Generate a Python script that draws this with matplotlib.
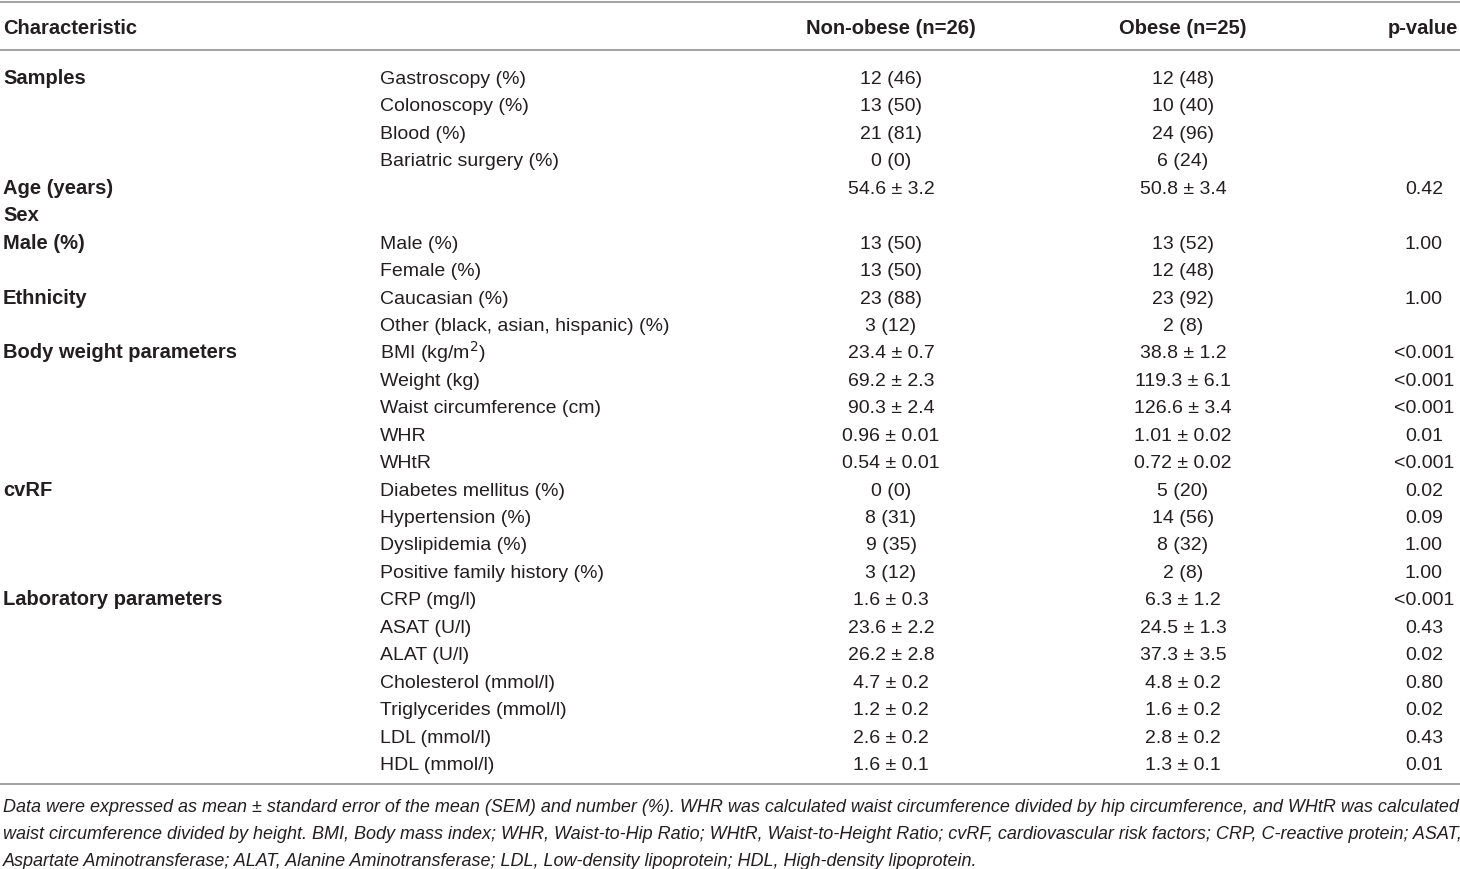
import matplotlib.pyplot as plt

# Table content
header = ["Characteristic", "Non-obese (n=26)", "Obese (n=25)", "p-value"]

groups = ["Samples", "", "", "", "Age (years)", "Sex", "Male (%)", "",
          "Ethnicity", "", "Body weight parameters", "", "", "", "",
          "cvRF", "", "", "", "Laboratory parameters", "", "", "", "", "", ""]

items = ["Gastroscopy (%)", "Colonoscopy (%)", "Blood (%)", "Bariatric surgery (%)",
         "", "", "Male (%)", "Female (%)", "Caucasian (%)",
         "Other (black, asian, hispanic) (%)", "BMI (kg/m$^2$)", "Weight (kg)",
         "Waist circumference (cm)", "WHR", "WHtR", "Diabetes mellitus (%)",
         "Hypertension (%)", "Dyslipidemia (%)", "Positive family history (%)",
         "CRP (mg/l)", "ASAT (U/l)", "ALAT (U/l)", "Cholesterol (mmol/l)",
         "Triglycerides (mmol/l)", "LDL (mmol/l)", "HDL (mmol/l)"]

non_obese = ["12 (46)", "13 (50)", "21 (81)", "0 (0)", "54.6 ± 3.2", "",
             "13 (50)", "13 (50)", "23 (88)", "3 (12)", "23.4 ± 0.7",
             "69.2 ± 2.3", "90.3 ± 2.4", "0.96 ± 0.01", "0.54 ± 0.01",
             "0 (0)", "8 (31)", "9 (35)", "3 (12)", "1.6 ± 0.3", "23.6 ± 2.2",
             "26.2 ± 2.8", "4.7 ± 0.2", "1.2 ± 0.2", "2.6 ± 0.2", "1.6 ± 0.1"]

obese = ["12 (48)", "10 (40)", "24 (96)", "6 (24)", "50.8 ± 3.4", "",
         "13 (52)", "12 (48)", "23 (92)", "2 (8)", "38.8 ± 1.2",
         "119.3 ± 6.1", "126.6 ± 3.4", "1.01 ± 0.02", "0.72 ± 0.02",
         "5 (20)", "14 (56)", "8 (32)", "2 (8)", "6.3 ± 1.2", "24.5 ± 1.3",
         "37.3 ± 3.5", "4.8 ± 0.2", "1.6 ± 0.2", "2.8 ± 0.2", "1.3 ± 0.1"]

p_values = ["", "", "", "", "0.42", "", "1.00", "", "1.00", "", "<0.001",
            "<0.001", "<0.001", "0.01", "<0.001", "0.02", "0.09", "1.00",
            "1.00", "<0.001", "0.43", "0.02", "0.80", "0.02", "0.43", "0.01"]

footnote = [
    "Data were expressed as mean ± standard error of the mean (SEM) and number (%). WHR was calculated waist circumference divided by hip circumference, and WHtR was calculated",
    "waist circumference divided by height. BMI, Body mass index; WHR, Waist-to-Hip Ratio; WHtR, Waist-to-Height Ratio; cvRF, cardiovascular risk factors; CRP, C-reactive protein; ASAT,",
    "Aspartate Aminotransferase; ALAT, Alanine Aminotransferase; LDL, Low-density lipoprotein; HDL, High-density lipoprotein.",
]

plt.rcParams['font.family'] = ['Liberation Sans', 'DejaVu Sans']
txt_color = "#231f20"
fs = 14
fs_bold = 14.5

fig = plt.figure(figsize=(14.6, 8.69), dpi=100)
ax = fig.add_axes([0, 0, 1, 1])
ax.set_xlim(0, 1460)
ax.set_ylim(869, 0)
ax.axis("off")

# rules
for y in [1.5, 50, 784]:
    ax.plot([0, 1460], [y, y], color="#9a9a9a", lw=1.3)

# column positions
x_group, x_item, x_non, x_ob, x_p = 3, 380, 891, 1183, 1424

hb = 34
ax.text(x_group, hb, header[0], fontsize=fs_bold, fontweight="bold", va="baseline", color=txt_color)
ax.text(x_non, hb, header[1], fontsize=fs_bold, fontweight="bold", va="baseline", ha="center", color=txt_color)
ax.text(x_ob, hb, header[2], fontsize=fs_bold, fontweight="bold", va="baseline", ha="center", color=txt_color)
ax.text(1458, hb, header[3], fontsize=fs_bold, fontweight="bold", va="baseline", ha="right", color=txt_color)

y0, dy = 84, 27.44
for i in range(len(items)):
    y = y0 + i * dy
    ax.text(x_group, y, groups[i], fontsize=fs_bold, fontweight="bold", va="baseline", color=txt_color)
    ax.text(x_item, y, items[i], fontsize=fs, va="baseline", color=txt_color)
    ax.text(x_non, y, non_obese[i], fontsize=fs, va="baseline", ha="center", color=txt_color)
    ax.text(x_ob, y, obese[i], fontsize=fs, va="baseline", ha="center", color=txt_color)
    ax.text(x_p, y, p_values[i], fontsize=fs, va="baseline", ha="center", color=txt_color)

for j, line in enumerate(footnote):
    ax.text(x_group, 812 + j * 27, line, fontsize=12.95, style="italic", va="baseline", color=txt_color)

fig.savefig("out.png", dpi=100)
